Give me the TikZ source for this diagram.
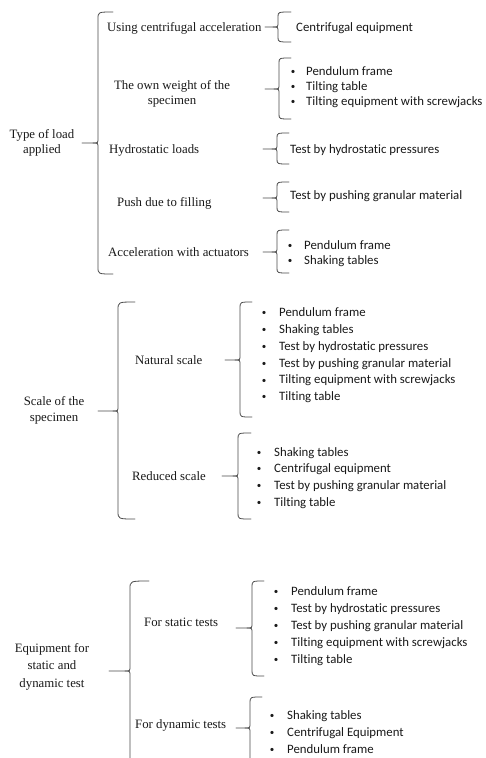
\documentclass[tikz,border=0pt]{standalone}
\usepackage{fontspec}
\usepackage{graphicx}
\setmainfont{Liberation Serif}
\newfontfamily\calfont[Ligatures=NoCommon]{Carlito}
\tikzset{
  lbl/.style={font=\fontsize{12.8}{15}\selectfont, inner sep=0pt, text=black!90},
  itm/.style={font=\calfont\fontsize{12.8}{15}\selectfont, inner sep=0pt, text=black!90},
  brace/.style={draw=black!70, line width=0.8pt, line cap=round, line join=round}
}
% x, top, bottom, mid, tip x, hook x, radius
\newcommand\brc[7]{%
  \draw[brace] (#6,#2) .. controls (#1,#2) .. (#1,{#2+#7}) -- (#1,{#4-5})
     .. controls (#1,#4) .. ({#1-5},#4) -- (#5,#4);
  \draw[brace] ({#1-5},#4) .. controls (#1,#4) .. (#1,{#4+5}) -- (#1,{#3-#7})
     .. controls (#1,#3) .. (#6,#3);
}
\newcommand\smallbullet{\raisebox{0.9pt}{\scalebox{0.7}{\textbullet}}}
% prefix, bullet x, text x, first y, spacing, items
\newcommand\blist[6]{%
  \foreach \t [count=\i] in {#6} {
    \node[itm, anchor=base] (#1b\i) at (#2, {#4+(\i-1)*#5+4}) {\smallbullet};
    \node[itm, anchor=base west] (#1t\i) at (#3, {#4+(\i-1)*#5+4}) {\t};
  }%
}
\begin{document}
\begin{tikzpicture}[x=1pt, y=-1pt]
\path[use as bounding box] (0,0) rectangle (486,758);
\clip (0,0) rectangle (486,758);
\fill[white] (0,0) rectangle (486,758);

% ---------- Section 1 ----------
\node[lbl, align=center, font=\fontsize{12.8}{15}\selectfont] (type) at (42,142.5) {Type of load\\applied};
\brc{98}{12}{274}{143}{82}{113}{7}

\node[lbl, anchor=base west] (ucent) at (107,31) {Using centrifugal acceleration};
\brc{278}{12}{42}{27}{265}{291}{5}
\node[itm, anchor=base west] (cequip) at (296,31) {Centrifugal equipment};

\node[lbl, align=center, font=\fontsize{12.8}{14.5}\selectfont] (own) at (172,94) {The own weight of the\\specimen};
\brc{279}{58}{119}{89}{265}{291}{5}
\blist{la}{293}{306}{71}{15}{Pendulum frame, Tilting table, Tilting equipment with screwjacks}

\node[lbl, anchor=base west] (hydro) at (109,153) {Hydrostatic loads};
\brc{277}{133}{164}{149}{263}{289}{5}
\node[itm, anchor=base west] (thydro) at (290,153) {Test by hydrostatic pressures};

\node[lbl, anchor=base west] (push) at (117,206) {Push due to filling};
\brc{277}{182}{212}{198}{263}{289}{5}
\node[itm, anchor=base west] (tpush) at (290,199) {Test by pushing granular material};

\node[lbl, anchor=base west] (accel) at (108,256) {Acceleration with actuators};
\brc{277}{230}{273}{252}{263}{289}{5}
\blist{lb}{290}{304}{245}{15}{Pendulum frame, Shaking tables}

% ---------- Section 2 ----------
\node[lbl, align=center, font=\fontsize{12.8}{16}\selectfont] (scale) at (54,410) {Scale of the\\specimen};
\brc{118}{302}{519}{411}{98}{135}{8}

\node[lbl, anchor=base west] (natural) at (135,364) {Natural scale};
\brc{240}{302}{417}{360}{225}{252}{6}
\blist{lc}{264}{279}{312.3}{16.9}{Pendulum frame, Shaking tables, Test by hydrostatic pressures, Test by pushing granular material, Tilting equipment with screwjacks, Tilting table}

\node[lbl, anchor=base west] (reduced) at (132,480) {Reduced scale};
\brc{238}{433}{519}{476}{222}{251}{6}
\blist{ld}{259}{274}{452}{16.7}{Shaking tables, Centrifugal equipment, Test by pushing granular material, Tilting table}

% ---------- Section 3 ----------
\node[lbl, align=center, font=\fontsize{12.8}{17.5}\selectfont] (equip) at (52,666.5) {Equipment for\\static and\\dynamic test};
\brc{130}{581}{790}{671}{109}{149}{8}

\node[lbl, anchor=base west] (static) at (144,626) {For static tests};
\brc{252}{581}{676}{628}{236}{264}{6}
\blist{le}{276}{291}{591}{17}{Pendulum frame, Test by hydrostatic pressures, Test by pushing granular material, Tilting equipment with screwjacks, Tilting table}

\node[lbl, anchor=base west] (dynamic) at (135,728) {For dynamic tests};
\brc{250}{697}{800}{728}{236}{262}{6}
\blist{lf}{272}{287}{715}{17}{Shaking tables, Centrifugal Equipment, Pendulum frame}
\end{tikzpicture}
\end{document}
